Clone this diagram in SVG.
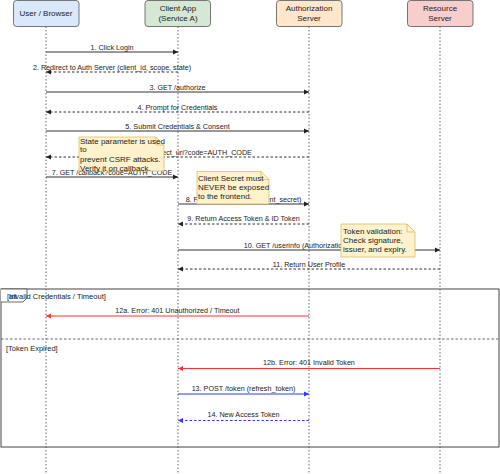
<svg xmlns="http://www.w3.org/2000/svg" width="500" height="474" viewBox="0 0 500 474">
<style>
text{font-family:"Liberation Sans",Arial,sans-serif;fill:#222}
.hd{font-size:8px;text-anchor:middle}
.lb{font-size:7.2px;text-anchor:middle}
.nt{font-size:8px}
.life{stroke:#444;stroke-width:0.8;stroke-dasharray:1.5,2;fill:none}
.m{stroke:#333;stroke-width:1;fill:none}
.d{stroke-dasharray:2.5,2}
.red{stroke:#ff3333}
.blue{stroke:#3333ff}
.note{fill:#fff2cc;stroke:#d6b656;stroke-width:0.7}
.frame{fill:none;stroke:#444;stroke-width:1}
</style>
<defs>
<marker id="ah" markerWidth="6" markerHeight="6" refX="5" refY="3" orient="auto" markerUnits="userSpaceOnUse"><path d="M0,0.5 L5,3 L0,5.5 Z" fill="#222"/></marker>
<marker id="ahr" markerWidth="6" markerHeight="6" refX="5" refY="3" orient="auto" markerUnits="userSpaceOnUse"><path d="M0,0.5 L5,3 L0,5.5 Z" fill="#ff3333"/></marker>
<marker id="ahb" markerWidth="6" markerHeight="6" refX="5" refY="3" orient="auto" markerUnits="userSpaceOnUse"><path d="M0,0.5 L5,3 L0,5.5 Z" fill="#3333ff"/></marker>
</defs>
<rect width="500" height="474" fill="#fff"/>
<g id="lifelines">
<line class="life" x1="46" y1="26.5" x2="46" y2="474"/>
<line class="life" x1="178" y1="26.5" x2="178" y2="474"/>
<line class="life" x1="309" y1="26.5" x2="309" y2="474"/>
<line class="life" x1="440" y1="26.5" x2="440" y2="474"/>
</g>
<g id="user"><rect x="13.5" y="0.5" width="65.5" height="26" rx="3" fill="#dae8fc" stroke="#555" stroke-width="0.8"/><text class="hd" x="46" y="16">User / Browser</text></g>
<g id="client"><rect x="145" y="0.5" width="65.5" height="26" rx="3" fill="#d5e8d4" stroke="#555" stroke-width="0.8"/><text class="hd" x="178" y="11">Client App</text><text class="hd" x="178" y="21">(Service A)</text></g>
<g id="auth"><rect x="276.5" y="0.5" width="65.5" height="26" rx="3" fill="#ffe6cc" stroke="#555" stroke-width="0.8"/><text class="hd" x="309" y="11">Authorization</text><text class="hd" x="309" y="21">Server</text></g>
<g id="resource"><rect x="407.5" y="0.5" width="65.5" height="26" rx="3" fill="#f8cecc" stroke="#555" stroke-width="0.8"/><text class="hd" x="440" y="11">Resource</text><text class="hd" x="440" y="21">Server</text></g>
<g id="alt-frame">
<rect class="frame" x="1" y="289" width="498" height="158"/>
<path d="M1,289 H27 V298 L23,302 H1" fill="#fff" stroke="#444" stroke-width="0.8"/>
<text x="9" y="299" style="font-size:7.5px">alt</text>
<text x="7" y="299" style="font-size:7.5px">[Invalid Credentials / Timeout]</text>
<line x1="1" y1="339" x2="499" y2="339" stroke="#444" stroke-width="0.8" stroke-dasharray="2.5,2"/>
<text x="6" y="351" style="font-size:7.5px">[Token Expired]</text>
</g>
<g id="connectors">
<line class="m" x1="46" y1="52" x2="178" y2="52" marker-end="url(#ah)"/>
<text class="lb" x="112" y="49.5">1. Click Login</text>
<line class="m d" x1="178" y1="72" x2="46" y2="72" marker-end="url(#ah)"/>
<text class="lb" x="112" y="69.5">2. Redirect to Auth Server (client_id, scope, state)</text>
<line class="m" x1="46" y1="92" x2="309" y2="92" marker-end="url(#ah)"/>
<text class="lb" x="177.5" y="89.5">3. GET /authorize</text>
<line class="m d" x1="309" y1="112" x2="46" y2="112" marker-end="url(#ah)"/>
<text class="lb" x="177.5" y="109.5">4. Prompt for Credentials</text>
<line class="m" x1="46" y1="131" x2="309" y2="131" marker-end="url(#ah)"/>
<text class="lb" x="177.5" y="128.5">5. Submit Credentials &amp; Consent</text>
<line class="m d" x1="309" y1="157" x2="46" y2="157" marker-end="url(#ah)"/>
<text class="lb" x="177.5" y="154.5">6. Redirect to redirect_uri?code=AUTH_CODE</text>
<line class="m" x1="46" y1="177" x2="178" y2="177" marker-end="url(#ah)"/>
<text class="lb" x="112" y="174.5">7. GET /callback?code=AUTH_CODE</text>
<line class="m" x1="178" y1="204" x2="309" y2="204" marker-end="url(#ah)"/>
<text class="lb" x="243.5" y="201.5">8. POST /token (code, client_secret)</text>
<line class="m d" x1="309" y1="224" x2="178" y2="224" marker-end="url(#ah)"/>
<text class="lb" x="243.5" y="221">9. Return Access Token &amp; ID Token</text>
<line class="m" x1="178" y1="250" x2="440" y2="250" marker-end="url(#ah)"/>
<text class="lb" x="309" y="247.5">10. GET /userinfo (Authorization: Bearer)</text>
<line class="m d" x1="440" y1="269" x2="178" y2="269" marker-end="url(#ah)"/>
<text class="lb" x="309" y="266.5">11. Return User Profile</text>
<line class="m red" x1="309" y1="316" x2="46" y2="316" marker-end="url(#ahr)"/>
<text class="lb" x="177.5" y="312.5">12a. Error: 401 Unauthorized / Timeout</text>
<line class="m red" x1="440" y1="368.5" x2="178" y2="368.5" marker-end="url(#ahr)"/>
<text class="lb" x="309" y="365">12b. Error: 401 Invalid Token</text>
<line class="m blue" x1="178" y1="394" x2="309" y2="394" marker-end="url(#ahb)"/>
<text class="lb" x="243.5" y="390.5">13. POST /token (refresh_token)</text>
<line class="m d blue" x1="309" y1="420.5" x2="178" y2="420.5" marker-end="url(#ahb)"/>
<text class="lb" x="243.5" y="417">14. New Access Token</text>
</g>
<g id="note-state">
<path class="note" d="M79,137 H156 L164,145 V171 H79 Z"/>
<path d="M156,137 V145 H164" fill="none" stroke="#d6b656" stroke-width="0.7"/>
<text class="nt" x="80" y="143.5">State parameter is used</text>
<text class="nt" x="80" y="152">to</text>
<text class="nt" x="80" y="161.5">prevent CSRF attacks.</text>
<text class="nt" x="80" y="170.5">Verify it on callback.</text>
</g>
<g id="note-secret">
<path class="note" d="M197,171.5 H261 L269,179.5 V204 H197 Z"/>
<path d="M261,171.5 V179.5 H269" fill="none" stroke="#d6b656" stroke-width="0.7"/>
<text class="nt" x="198" y="181">Client Secret must</text>
<text class="nt" x="198" y="190">NEVER be exposed</text>
<text class="nt" x="198" y="199">to the frontend.</text>
</g>
<g id="note-validation">
<path class="note" d="M341,224 H407 L415,232 V257 H341 Z"/>
<path d="M407,224 V232 H415" fill="none" stroke="#d6b656" stroke-width="0.7"/>
<text class="nt" x="343" y="234">Token validation:</text>
<text class="nt" x="343" y="243">Check signature,</text>
<text class="nt" x="343" y="252">issuer, and expiry.</text>
</g>
</svg>
